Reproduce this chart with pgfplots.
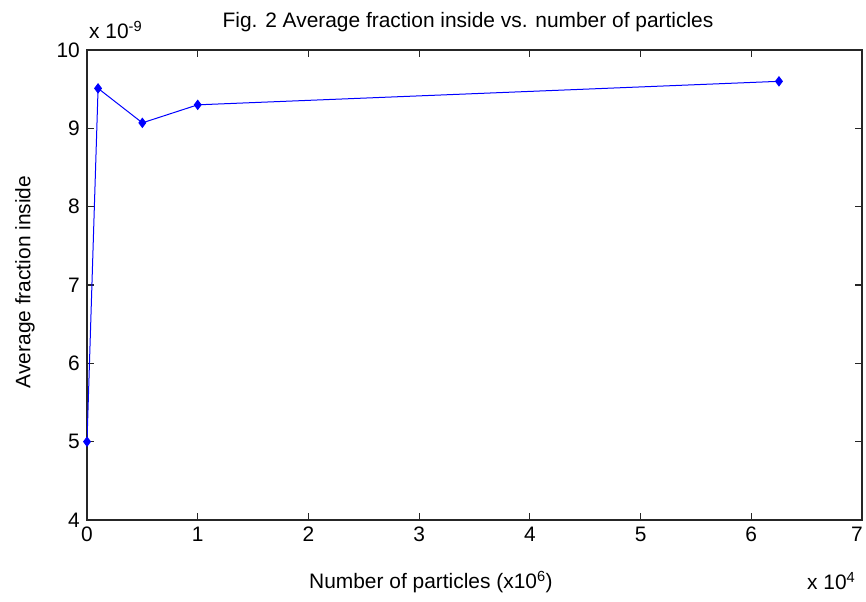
\documentclass[border=0pt]{standalone}
\usepackage{pgfplots}
\pgfplotsset{compat=1.18}
\usepackage{fontspec}
\setmainfont{Liberation Sans}

\begin{document}
\begin{tikzpicture}
\fontsize{21}{25}\selectfont
\path[use as bounding box] (0,0) rectangle (866bp,602bp);
\begin{axis}[
  at={(87bp,82bp)}, anchor=south west,
  scale only axis, width=775bp, height=470bp,
  xmin=0, xmax=7, ymin=4, ymax=10,
  xtick={0,...,7}, ytick={4,...,10},
  xticklabels={0,1,2,3,4,5,6,\makebox[0pt]{\kern-10bp 7}},
  tick align=inside, major tick length=7bp,
  axis line style={black!85, line width=1.1bp},
  every tick/.style={black!85, line width=1.1bp},
  tick label style={font=\fontsize{21}{25}\selectfont},
  /pgf/number format/assume math mode=true,
  scaled ticks=false,
]
% x in units of 10^4 particles (x10^6), y in units of 10^-9
\addplot[color=blue, line width=1bp, mark=diamond*, mark size=4.5bp,
  mark options={fill=blue}] coordinates {
  (0.0001, 5.00)
  (0.1,    9.51)
  (0.5,    9.07)
  (1.0,    9.30)
  (6.25,   9.60)
};
\end{axis}
\node at (468bp,580bp) {Fig. 2 Average fraction inside vs. number of particles};
\node[anchor=west] at (82bp,572bp) {x 10\textsuperscript{-9}};
\node[rotate=90] at (25bp,320bp) {Average fraction inside};
\node[anchor=west] at (302bp,20bp) {Number of particles (x10\textsuperscript{6})};
\node[anchor=west] at (800bp,21bp) {x 10\textsuperscript{4}};
\end{tikzpicture}
\end{document}
